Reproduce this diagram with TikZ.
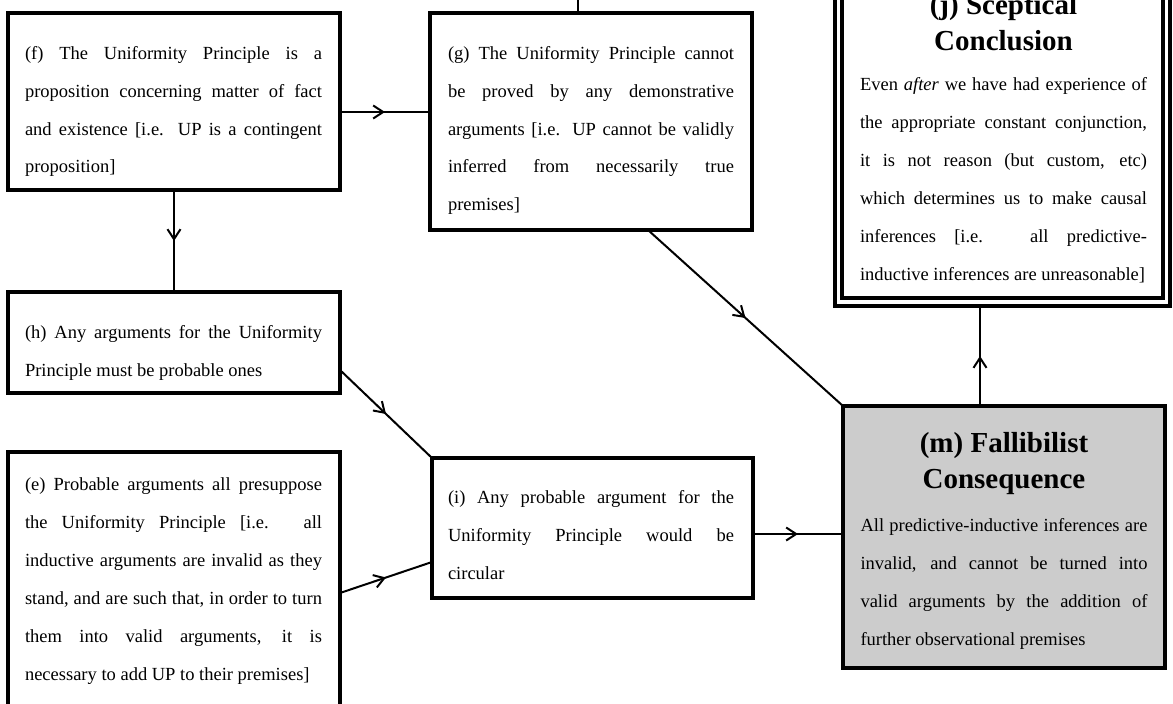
\documentclass[tikz,border=0pt]{standalone}
\usepackage{fontspec}
\setmainfont{Liberation Serif}
\usetikzlibrary{arrows.meta,decorations.markings,calc}

\definecolor{boxgray}{RGB}{204,204,204}

% one justified line of a fixed-break paragraph
\newcommand{\jl}[1]{\makebox[\linewidth][s]{#1}\\}
\newcommand{\bodyfont}{\fontsize{18.5}{38}\selectfont}
\newcommand{\headfont}{\fontsize{29}{36}\selectfont\bfseries}

\tikzset{
  box/.style={draw, line width=3.6pt, fill=white, rectangle, inner sep=0pt,
    outer sep=0pt, anchor=north west},
  shaded/.style={box, fill=boxgray},
  txt/.style={anchor=base west, inner sep=0pt, outer sep=0pt},
  wire/.style={line width=2pt},
  conn/.style={wire, decoration={markings, mark=at position 0.5 with
    {\arrow{Straight Barb[length=10pt,width=13pt,line width=2pt]}}},
    postaction=decorate},
}

\begin{document}
\begin{tikzpicture}[x=1pt,y=-1pt]
\useasboundingbox (0,0) rectangle (1173,704);
\clip (0,0) rectangle (1173,704);

% ---- boxes ----
\node[box, minimum width=332pt, minimum height=177pt] (f) at (8,13) {};
\node[box, minimum width=322pt, minimum height=217pt] (g) at (430,13) {};
\node[box, minimum width=332pt, minimum height=101pt] (h) at (8,292) {};
\node[box, minimum width=332pt, minimum height=262pt] (e) at (8,452) {};
\node[box, minimum width=321pt, minimum height=140pt] (i) at (432,458) {};
\node[shaded, minimum width=322pt, minimum height=262pt] (m) at (843,406) {};
\node[box, minimum width=335pt, minimum height=346pt] (j) at (835,-40) {};
\draw[line width=3.6pt] ([xshift=7pt,yshift=5pt]j.north west)
  rectangle ([xshift=-7pt,yshift=8pt]j.south east);

% ---- texts ----
\node[txt] (ft) at ([xshift=17pt,yshift=-46pt]f.north west) {\parbox[t]{297pt}{\bodyfont
  \jl{(f) The Uniformity Principle is a}
  \jl{proposition concerning matter of fact}
  \jl{and existence [i.e. UP is a contingent}
  proposition]}};

\node[txt] (gt) at ([xshift=18pt,yshift=-46pt]g.north west) {\parbox[t]{286pt}{\bodyfont
  \jl{(g) The Uniformity Principle cannot}
  \jl{be proved by any demonstrative}
  \jl{arguments [i.e. UP cannot be validly}
  \jl{inferred from necessarily true}
  premises]}};

\node[txt] (ht) at ([xshift=17pt,yshift=-46pt]h.north west) {\parbox[t]{297pt}{\bodyfont
  \jl{(h) Any arguments for the Uniformity}
  Principle must be probable ones}};

\node[txt] (et) at ([xshift=17pt,yshift=-38pt]e.north west) {\parbox[t]{297pt}{\bodyfont
  \jl{(e) Probable arguments all presuppose}
  \jl{the Uniformity Principle [i.e. all}
  \jl{inductive arguments are invalid as they}
  \jl{stand, and are such that, in order to turn}
  \jl{them into valid arguments, it is}
  necessary to add UP to their premises]}};

\node[txt] (it) at ([xshift=16pt,yshift=-45pt]i.north west) {\parbox[t]{286pt}{\bodyfont
  \jl{(i) Any probable argument for the}
  \jl{Uniformity Principle would be}
  circular}};

\node[txt] (mh) at ([xshift=17.5pt,yshift=-46pt]m.north west) {\parbox[t]{287pt}{\headfont\centering
  (m) Fallibilist\\Consequence\par}};
\node[txt] (mt) at ([xshift=17.5pt,yshift=-125pt]m.north west) {\parbox[t]{287pt}{\bodyfont
  \jl{All predictive-inductive inferences are}
  \jl{invalid, and cannot be turned into}
  \jl{valid arguments by the addition of}
  further observational premises}};

\node[txt] (jh) at ([xshift=25pt,yshift=-54pt]j.north west) {\parbox[t]{287pt}{\headfont\centering
  (j) Sceptical\\Conclusion\par}};
\node[txt] (jt) at ([xshift=25pt,yshift=-130pt]j.north west) {\parbox[t]{287pt}{\bodyfont
  \jl{Even \textit{after} we have had experience of}
  \jl{the appropriate constant conjunction,}
  \jl{it is not reason (but custom, etc)}
  \jl{which determines us to make causal}
  \jl{inferences [i.e. all predictive-}
  inductive inferences are unreasonable]}};

% ---- connectors ----
\coordinate (above) at (578,-30);
\draw[wire] (above) -- (above |- g.north);

\coordinate (fg) at ([yshift=-10.5pt]f.east);
\draw[conn] (fg) -- (fg -| g.west);
\draw[conn] (f.south) -- (h.north);
\draw[conn] ([xshift=57pt]g.south) -- (m.north west);
\draw[conn] ([yshift=-27.5pt]h.east) -- (i.north west);
\draw[conn] ([yshift=-141pt]e.north east) -- ([yshift=-34pt]i.west);
\coordinate (im) at ([yshift=-6pt]i.east);
\draw[conn] (im) -- (im -| m.west);
\coordinate (mj) at ([xshift=-24pt]m.north);
\draw[conn] (mj) -- (mj |- j.south);
\end{tikzpicture}
\end{document}
